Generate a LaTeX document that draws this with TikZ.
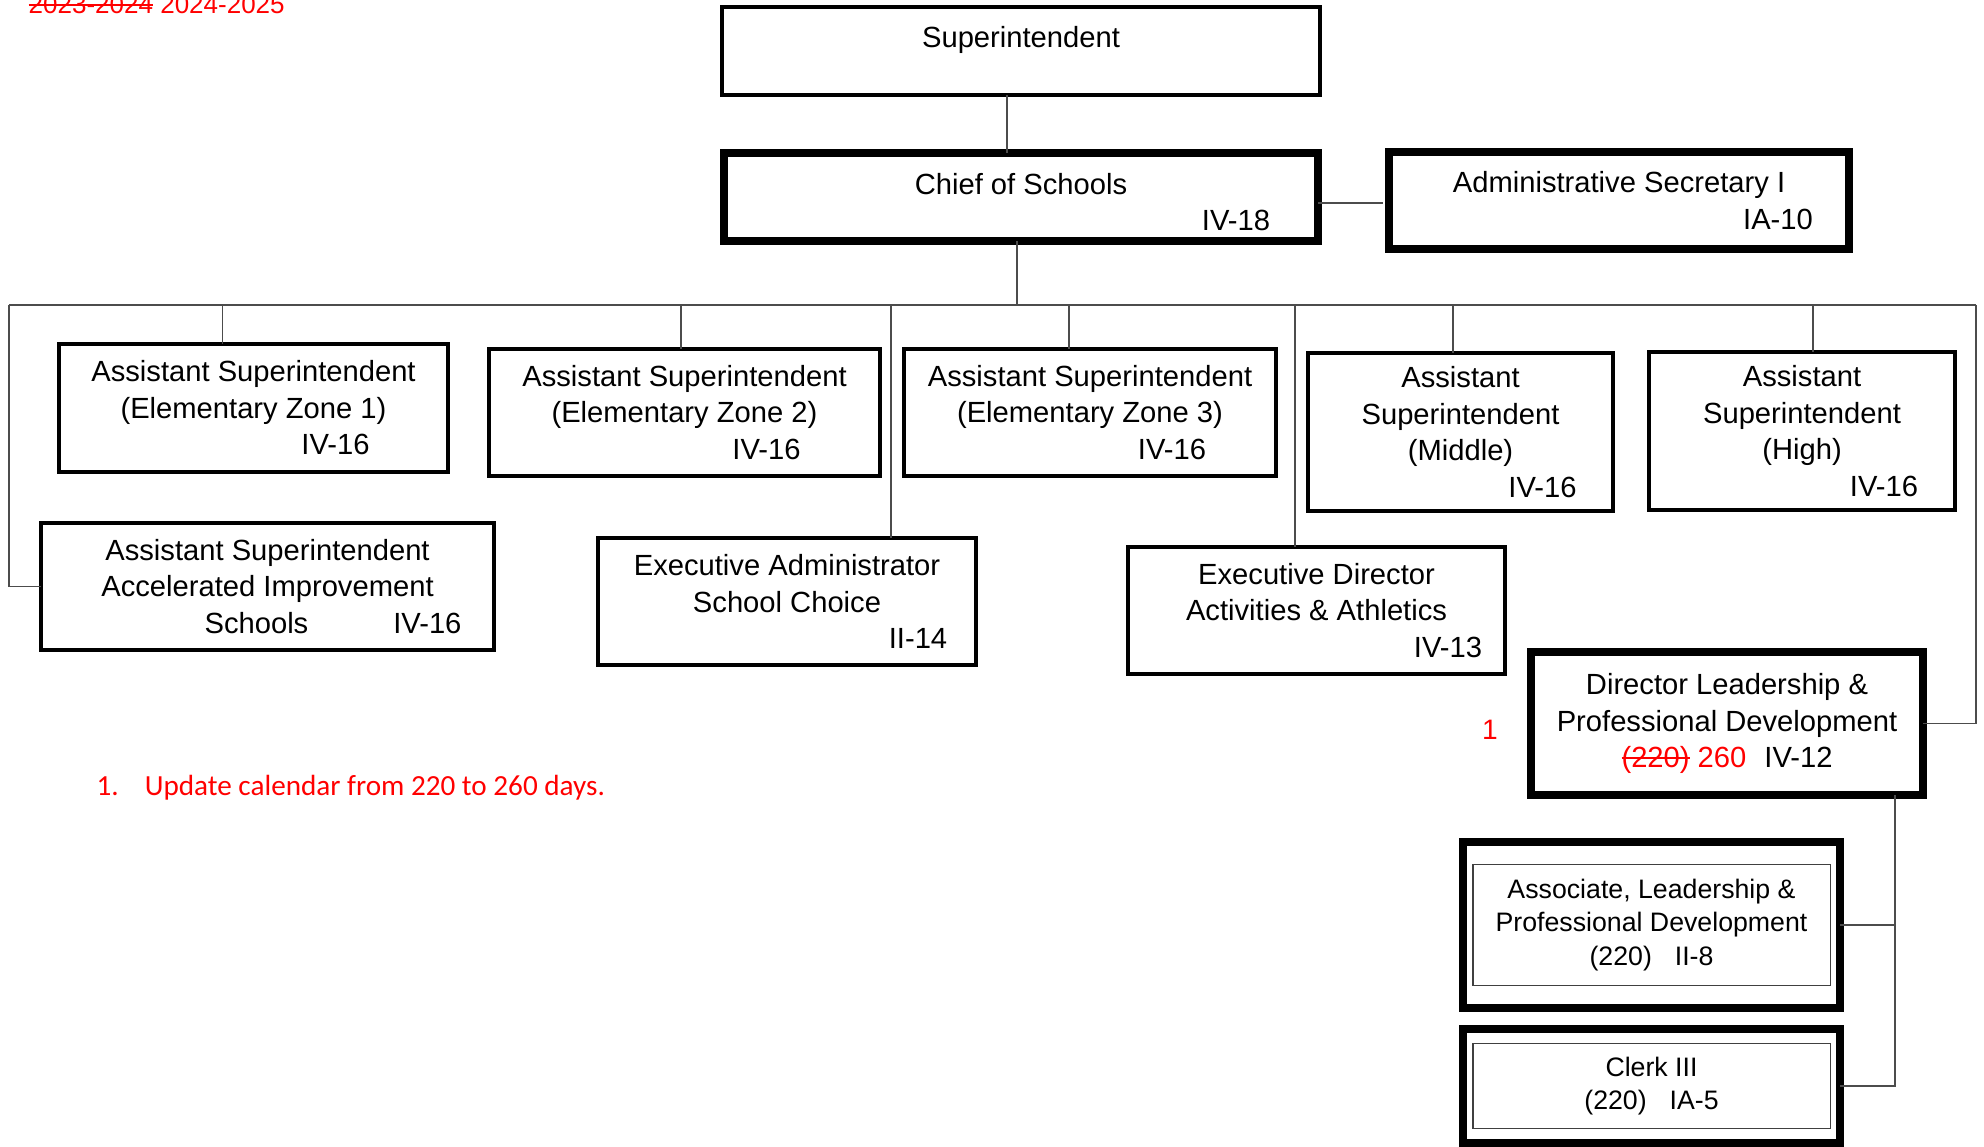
\documentclass[tikz,border=0pt]{standalone}
\usepackage{fontspec}
\setmainfont{Liberation Sans}
\newfontfamily\calib{Carlito}
\usetikzlibrary{fit}

\newcommand\boxfont{\fontsize{8.3}{10.4}\selectfont}
\newcommand\subfont{\fontsize{7.6}{9.5}\selectfont}
\newsavebox\struckbox
\newcommand\struck[1]{\sbox\struckbox{#1}\rlap{\rule[0.3em]{\wd\struckbox}{0.5pt}}\usebox\struckbox}

\begin{document}
\begin{tikzpicture}[
       post/.style={
         draw,
         rectangle,
         line width=1.1pt,
         inner sep=0pt,
         outer sep=0pt,
         align=center,
         font=\boxfont
       },
       keypost/.style={post, line width=2.2pt},
       subpost/.style={post, line width=0.45pt, draw=black!75, font=\subfont},
       link/.style={draw=black!70, line width=0.4pt},
       redtext/.style={text=red, inner sep=0pt}
     ]

       \useasboundingbox (0,0) rectangle (19.84,-11.47);

       % top of the chart
       \node (sup) at (10.21,-0.51) [post,minimum width=5.98cm,minimum height=0.88cm]
         {Superintendent\\[-2.6pt]~};
       \node (chief) at (10.21,-1.97) [keypost,minimum width=5.94cm,minimum height=0.88cm]
         {~\\[-1.6pt]Chief of Schools\\\hspace*{4.30cm}IV-18};
       \node (admin) at (16.19,-2.005) [keypost,minimum width=4.60cm,minimum height=0.97cm]
         {Administrative Secretary I\\\hspace*{3.18cm}IA-10};

       % first row
       \node (ase1) at (2.535,-4.08) [post,minimum width=3.89cm,minimum height=1.28cm]
         {Assistant Superintendent\\(Elementary Zone 1)\\\hspace*{1.64cm}IV-16};
       \node (ase2) at (6.845,-4.125) [post,minimum width=3.91cm,minimum height=1.27cm]
         {Assistant Superintendent\\(Elementary Zone 2)\\\hspace*{1.64cm}IV-16};
       \node (ase3) at (10.90,-4.125) [post,minimum width=3.72cm,minimum height=1.27cm]
         {Assistant Superintendent\\(Elementary Zone 3)\\\hspace*{1.64cm}IV-16};
       \node (mid) at (14.605,-4.32) [post,minimum width=3.05cm,minimum height=1.58cm]
         {Assistant\\Superintendent\\(Middle)\\\hspace*{1.64cm}IV-16};
       \node (high) at (18.02,-4.31) [post,minimum width=3.06cm,minimum height=1.58cm]
         {Assistant\\Superintendent\\(High)\\\hspace*{1.64cm}IV-16};

       % second row
       \node (ais) at (2.675,-5.865) [post,minimum width=4.53cm,minimum height=1.27cm]
         {Assistant Superintendent\\Accelerated Improvement\\\hspace*{1.31cm}Schools\hspace*{0.85cm}IV-16};
       \node (exa) at (7.87,-6.015) [post,minimum width=3.78cm,minimum height=1.27cm]
         {Executive Administrator\\School Choice\\\hspace*{2.62cm}II-14};
       \node (exd) at (13.165,-6.105) [post,minimum width=3.77cm,minimum height=1.27cm]
         {Executive Director\\Activities \& Athletics\\\hspace*{2.63cm}IV-13};

       % leadership branch
       \node (dir) at (17.27,-7.235) [keypost,minimum width=3.92cm,minimum height=1.43cm]
         {Director Leadership \&\\Professional Development\\{\color{red}\struck{(220)} 260}\hspace*{0.18cm}IV-12};
       \node (associn) at (16.515,-9.25) [subpost,minimum width=3.576cm,minimum height=1.206cm]
         {Associate, Leadership \&\\Professional Development\\(220)\hspace*{0.23cm}II-8};
       \node (assoc) [keypost,fit=(associn),inner xsep=0.10cm,inner ysep=0.23cm] {};
       \node (clerkin) at (16.515,-10.86) [subpost,minimum width=3.576cm,minimum height=0.846cm]
         {Clerk III\\(220)\hspace*{0.23cm}IA-5};
       \node (clerk) [keypost,fit=(clerkin),inner xsep=0.10cm,inner ysep=0.145cm] {};

       % red notes
       \node (year) at (0.28,-0.14) [redtext,anchor=base west,font=\fontsize{7.4}{9}\selectfont]
         {\struck{2023-2024} 2024-2025};
       \node (mark) at (14.90,-7.39) [redtext,anchor=base,font=\fontsize{8}{9}\selectfont] {1};
       \node (note) at (0.96,-7.95) [redtext,anchor=base west,font=\calib\fontsize{8.3}{10}\selectfont]
         {1.\hspace*{0.26cm}Update calendar from 220 to 260 days.};

       % connectors
       \coordinate (busl) at (0.09,-3.05);
       \coordinate (busr) at (19.76,-3.05);
       \coordinate (trunk) at ([xshift=1.68cm]dir.south);

       \draw[link] ([xshift=-0.14cm]sup.south) -- ([xshift=-0.14cm]chief.north);
       \draw[link] ([yshift=-0.06cm]chief.east) -- ([xshift=-0.06cm,yshift=-0.06cm]chief.east -| admin.west);
       \draw[link] ([xshift=-0.04cm]chief.south) -- ([xshift=-0.04cm]chief.south |- busl);
       \draw[link] (busl) -- (busr);
       \draw[link] (busl) |- (ais.west);
       \draw[link] (busr) |- (dir.east);

       \draw[link] ([xshift=-0.31cm]ase1.north) -- ([xshift=-0.31cm]ase1.north |- busl);
       \draw[link] ([xshift=-0.035cm]ase2.north) -- ([xshift=-0.035cm]ase2.north |- busl);
       \draw[link] ([xshift=-0.21cm]ase3.north) -- ([xshift=-0.21cm]ase3.north |- busl);
       \draw[link] ([xshift=-0.075cm]mid.north) -- ([xshift=-0.075cm]mid.north |- busl);
       \draw[link] ([xshift=0.11cm]high.north) -- ([xshift=0.11cm]high.north |- busl);
       \draw[link] ([xshift=1.04cm]exa.north) -- ([xshift=1.04cm]exa.north |- busl);
       \draw[link] ([xshift=-0.215cm]exd.north) -- ([xshift=-0.215cm]exd.north |- busl);

       \draw[link] (trunk) |- (clerk.east);
       \draw[link] (assoc.east) -- (assoc.east -| trunk);

\end{tikzpicture}
\end{document}
